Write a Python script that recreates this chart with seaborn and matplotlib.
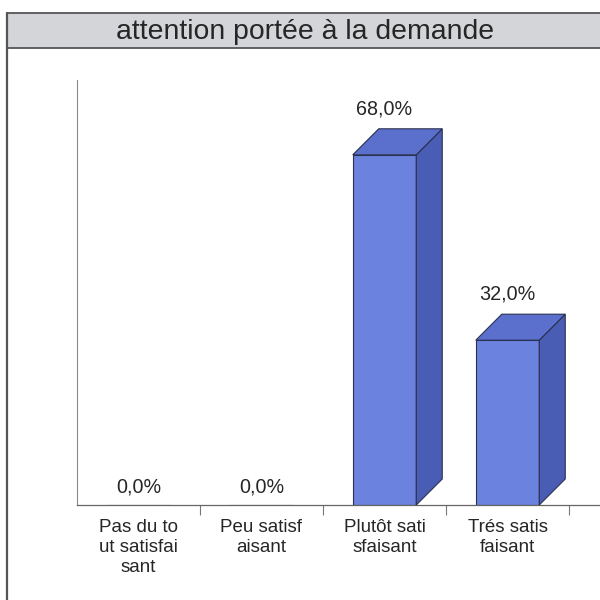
import matplotlib
matplotlib.use("Agg")
import matplotlib.pyplot as plt
import matplotlib.patches as mpatches
from matplotlib.lines import Line2D
import seaborn as sns
import pandas as pd

title = "attention portée à la demande"
categories = ["Pas du to\nut satisfai\nsant", "Peu satisf\naisant",
              "Plutôt sati\nsfaisant", "Trés satis\nfaisant"]
values = [0.0, 0.0, 68.0, 32.0]
value_labels = ["0,0%", "0,0%", "68,0%", "32,0%"]

sns.set_theme(style="white")
plt.rcParams['font.family'] = ['Liberation Sans', 'DejaVu Sans']

W, H = 600, 600
fig = plt.figure(figsize=(6, 6), dpi=100)
fig.patch.set_facecolor("white")

# axes in pixel geometry
ax_left, ax_right, ax_top, ax_bottom = 77, 600, 80, 505
ax = fig.add_axes([ax_left / W, 1 - ax_bottom / H,
                   (ax_right - ax_left) / W, (ax_bottom - ax_top) / H])
ax.set_facecolor("none")

front = "#6b83df"
top_c = "#5a70cc"
side_c = "#4a5db4"
edge = "#2a3050"

df = pd.DataFrame({"cat": categories, "val": values})
sns.barplot(data=df, x="cat", y="val", color=front, width=0.516,
            saturation=1, edgecolor=edge, linewidth=0.8, ax=ax)

xmin, xmax = -0.5, -0.5 + (ax_right - ax_left) / 123.0
ymin, ymax = 0, (ax_bottom - ax_top) / 5.15
ax.set_xlim(xmin, xmax)
ax.set_ylim(ymin, ymax)

# 3D depth offsets in pixels -> data
dpx, dpy = 26, 26
ddx = dpx * (xmax - xmin) / (ax_right - ax_left)
ddy = dpy * (ymax - ymin) / (ax_bottom - ax_top)

for p, v in zip(ax.patches, values):
    x0 = p.get_x()
    x1 = x0 + p.get_width()
    h = p.get_height()
    if h > 0:
        topf = mpatches.Polygon([(x0, h), (x1, h), (x1 + ddx, h + ddy), (x0 + ddx, h + ddy)],
                                closed=True, facecolor=top_c, edgecolor=edge, lw=0.8,
                                clip_on=False, zorder=3)
        sidef = mpatches.Polygon([(x1, 0), (x1 + ddx, ddy), (x1 + ddx, h + ddy), (x1, h)],
                                 closed=True, facecolor=side_c, edgecolor=edge, lw=0.8,
                                 clip_on=False, zorder=3)
        ax.add_patch(sidef)
        ax.add_patch(topf)

for i, (v, lab) in enumerate(zip(values, value_labels)):
    off = 46 if v > 0 else 18
    ax.annotate(lab, (i, v), xytext=(0, off * 0.72), textcoords="offset points",
                ha="center", va="center", fontsize=14.2, color="#262626")

ax.set_xlabel("")
ax.set_ylabel("")
ax.set_yticks([])
ax.set_xticks(range(len(categories)))
ax.set_xticklabels(categories, fontsize=13.5, color="#262626", linespacing=1.22)
ax.tick_params(axis="x", which="major", length=0, pad=10)
ax.set_xticks([i + 0.5 for i in range(len(categories))], minor=True)
ax.tick_params(axis="x", which="minor", length=7, width=0.8, color="#777777",
               direction="out", bottom=True)
for s in ["top", "right"]:
    ax.spines[s].set_visible(False)
ax.spines["left"].set_color("#8a8a8a")
ax.spines["left"].set_linewidth(0.8)
ax.spines["bottom"].set_color("#666666")
ax.spines["bottom"].set_linewidth(0.9)

# title bar and frame
fx0 = 7 / W
ty0, ty1 = 1 - 48 / H, 1 - 13 / H
fig.patches.append(mpatches.Rectangle((fx0, ty0), 1.1, ty1 - ty0, transform=fig.transFigure,
                                      facecolor="#d4d5d9", edgecolor="none", zorder=0))
fig.lines.append(Line2D([fx0, 1.0], [ty1, ty1], transform=fig.transFigure, color="#555555", lw=1.3))
fig.lines.append(Line2D([fx0, 1.0], [ty0, ty0], transform=fig.transFigure, color="#555555", lw=1.3))
fig.lines.append(Line2D([fx0, fx0], [0, ty1], transform=fig.transFigure, color="#555555", lw=1.6))
fig.text(305 / W, 1 - 32 / H, title, ha="center", va="center", fontsize=20.4, color="#262626")

fig.savefig("out.png", dpi=100)
